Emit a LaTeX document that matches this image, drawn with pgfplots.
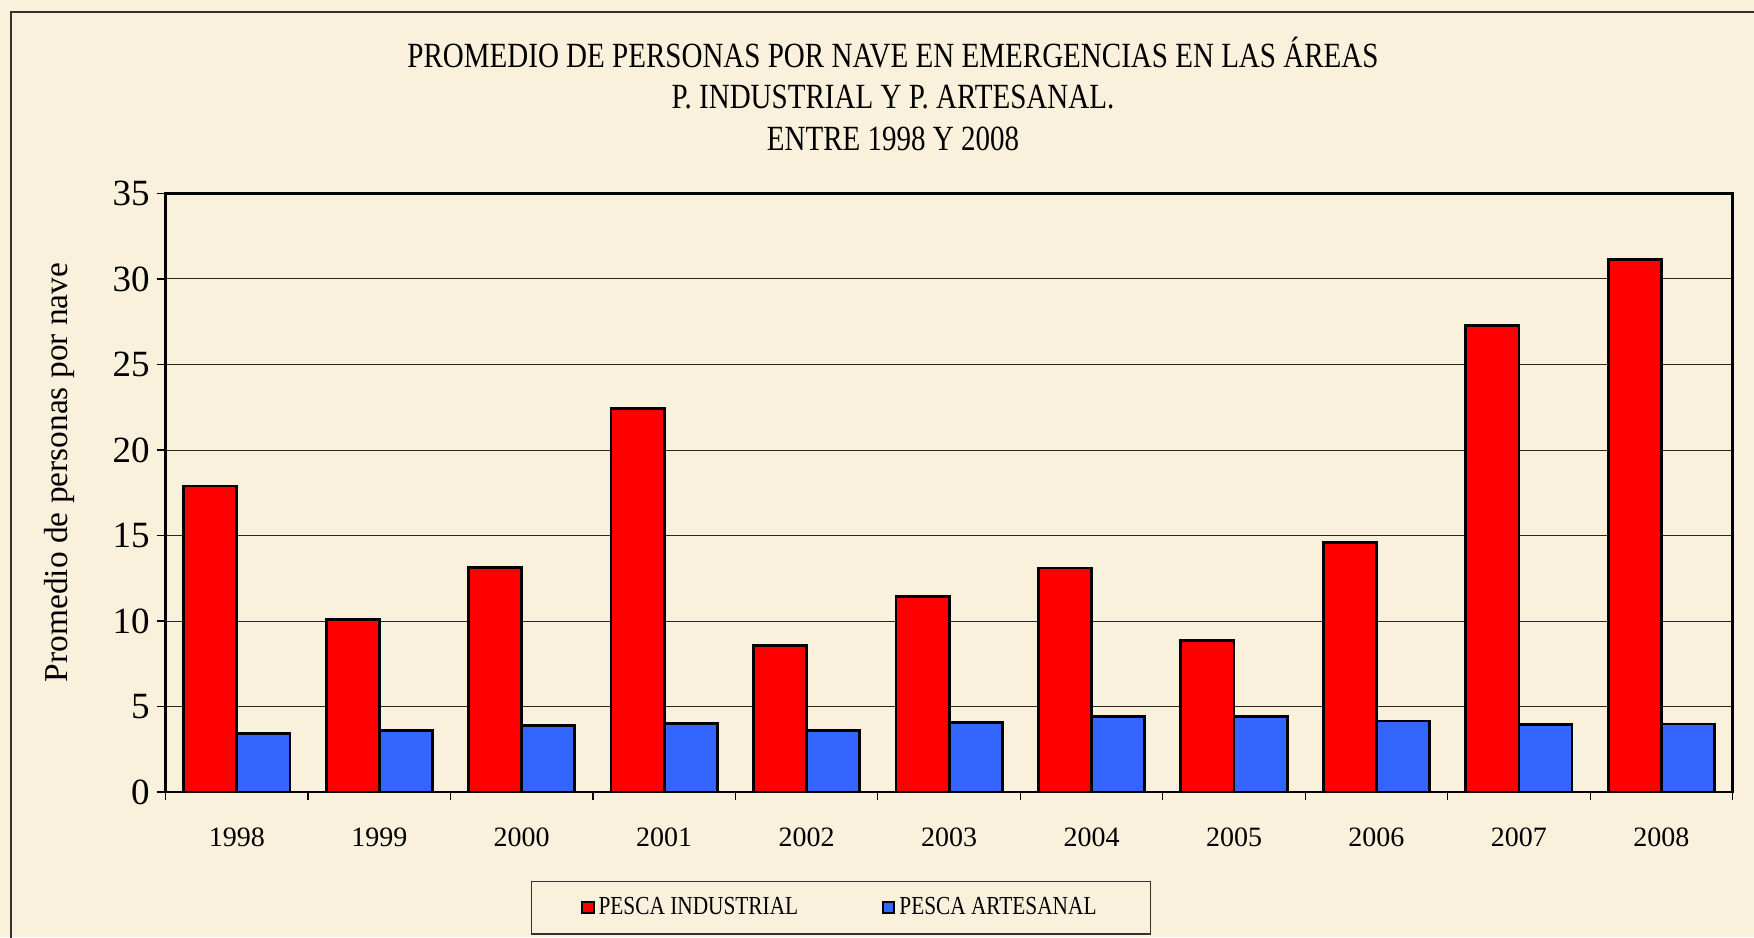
\documentclass[border=0pt]{standalone}
\usepackage{fontspec}
\setmainfont{Liberation Serif}
\newfontfamily\narrowfont[FakeStretch=0.82]{Liberation Serif}
\usepackage{pgfplots}
\pgfplotsset{compat=1.18}
\definecolor{bg}{RGB}{250,241,221}
\definecolor{barred}{RGB}{255,0,0}
\definecolor{barblue}{RGB}{51,102,255}

\begin{document}
\begin{tikzpicture}[x=1pt,y=1pt]
\fill[bg] (0,0) rectangle (877,468.5);
\useasboundingbox (0,0) rectangle (877,468.5);
\draw[black!80, line width=0.6pt] (5.5,-2) -- (5.5,462.5) -- (880,462.5);
\node[font=\narrowfont\fontsize{17.7}{20}\selectfont] at (446.5,442.2) {PROMEDIO DE PERSONAS POR NAVE EN EMERGENCIAS EN LAS ÁREAS};
\node[font=\narrowfont\fontsize{17.7}{20}\selectfont] at (446.5,419.8) {P. INDUSTRIAL Y P. ARTESANAL.};
\node[font=\narrowfont\fontsize{17.7}{20}\selectfont] at (446.5,399.1) {ENTRE 1998 Y 2008};
\begin{axis}[
  at={(82.8pt,72.5pt)}, anchor=south west,
  scale only axis,
  width=783.5pt, height=299.25pt,
  ybar=0pt, bar width=0.373,
  xmin=-0.5, xmax=10.5,
  ymin=0, ymax=35,
  ytick={0,5,...,35},
  xtick={0,...,10},
  xticklabels={1998,1999,2000,2001,2002,2003,2004,2005,2006,2007,2008},
  minor xtick={-0.5,0.5,...,10.5},
  major x tick style={draw=none},
  minor tick length=4pt,
  major tick length=4.5pt,
  tick align=outside,
  xtick pos=bottom, ytick pos=left,
  tick style={black, line width=0.6pt},
  ymajorgrids, grid style={black!85, line width=0.5pt},
  axis line style={black, line width=1.2pt},
  axis background/.style={fill=bg},
  /pgf/number format/assume math mode=true,
  yticklabel style={font=\fontsize{18.5}{20}\selectfont},
  xticklabel style={font=\fontsize{14}{16}\selectfont, yshift=-10pt},
  ylabel={Promedio de personas por nave},
  ylabel style={font=\fontsize{16.7}{18}\selectfont, at={(axis description cs:-0.068,0.534)}, anchor=center},
  legend columns=2,
  legend style={at={(axis description cs:0.431,-0.1935)}, anchor=center,
    draw=black!80, line width=0.6pt, fill=bg,
    font=\narrowfont\fontsize{13}{14}\selectfont,
    inner xsep=25pt, inner ysep=6pt,
    /tikz/every even column/.append style={column sep=40pt}},
  legend image code/.code={\draw[#1, draw=black, line width=1pt] (0pt,-2.8pt) rectangle (5.6pt,2.8pt);},
  every axis plot/.append style={draw=black, line width=1.4pt},
]
\addplot[fill=barred] coordinates {(0,17.9) (1,10.1) (2,13.15) (3,22.45) (4,8.55) (5,11.45) (6,13.1) (7,8.85) (8,14.6) (9,27.3) (10,31.13)};
\addplot[fill=barblue] coordinates {(0,3.4) (1,3.6) (2,3.9) (3,4.0) (4,3.6) (5,4.05) (6,4.4) (7,4.4) (8,4.15) (9,3.97) (10,3.98)};
\legend{PESCA INDUSTRIAL,PESCA ARTESANAL}
\end{axis}
\end{tikzpicture}
\end{document}
